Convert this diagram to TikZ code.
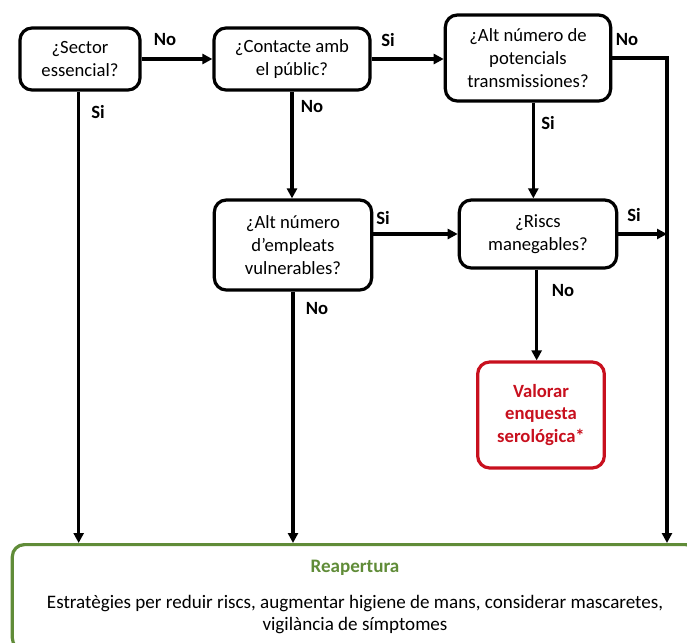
\documentclass[tikz,border=0pt]{standalone}
\usepackage{fontspec}
\setmainfont{Carlito}
\usetikzlibrary{arrows.meta}
\definecolor{alertred}{RGB}{200,16,30}
\definecolor{opengreen}{RGB}{96,140,56}
\tikzstyle{question}=[draw, rounded corners=9pt, line width=2.4pt, align=center, inner sep=0, font=\fontsize{14}{17}\selectfont]
\tikzstyle{outcome}=[question, draw=alertred, text=alertred, font=\bfseries\fontsize{14}{17}\selectfont]
\tikzstyle{answer}=[font=\bfseries\fontsize{14}{17}\selectfont]
\tikzstyle{flow}=[line width=2.4pt, -{Triangle[length=7.5pt, width=7.5pt]}]

\begin{document}
\begin{tikzpicture}[x=0.75pt, y=-0.75pt]
          \useasboundingbox (0,0) rectangle (687,643);
          \node[question, minimum width=90pt, minimum height=46.5pt] (sector) at (80, 59) {¿Sector\\essencial?};
          \node[question, minimum width=117pt, minimum height=46.5pt] (contacte) at (292, 59) {¿Contacte amb\\el públic?};
          \node[question, minimum width=124pt, minimum height=64.5pt] (potencials) at (528, 58) {¿Alt número de\\potencials\\transmissiones?};
          \node[question, minimum width=118pt, minimum height=67.5pt] (empleats) at (293, 245) {¿Alt número\\d’empleats\\vulnerables?};
          \node[question, minimum width=118pt, minimum height=51pt] (riscs) at (538, 234) {¿Riscs\\manegables?};
          \node[outcome, minimum width=95pt, minimum height=79.5pt] (valorar) at (541, 415) {Valorar\\enquesta\\serológica*};
          \node[question, draw=opengreen, anchor=north, minimum width=514pt, inner ysep=12pt,
                font=\fontsize{14.3}{16.5}\selectfont] (reapertura) at (355, 543)
            {\textcolor{opengreen}{\bfseries Reapertura}\\[10.5pt]
             Estratègies per reduir riscs, augmentar higiene de mans, considerar mascaretes,\\
             vigilància de símptomes};
          \coordinate (right_rail) at (667, 0);

          \draw[flow] (sector) -- (contacte);
          \draw[flow] (contacte.east) -- (contacte.east -| potencials.west);
          \draw[flow] (potencials.east) -| (right_rail |- reapertura.north);
          \draw[flow] ([xshift=-1pt]sector.south) -- ([xshift=-1pt]sector.south |- reapertura.north);
          \draw[flow] (contacte.south) -- (contacte.south |- empleats.north);
          \draw[flow] ([xshift=4pt]potencials.south) -- ([xshift=4pt]potencials.south |- riscs.north);
          \draw[flow] (empleats.east |- riscs.west) -- (riscs.west);
          \draw[flow] (riscs.east) -- (riscs.east -| right_rail);
          \draw[flow] ([xshift=-1pt]riscs.south) -- ([xshift=-1pt]riscs.south |- valorar.north);
          \draw[flow] (empleats.south) -- (empleats.south |- reapertura.north);

          \node[answer] (no_sector) at (165, 40) {No};
          \node[answer] (si_sector) at (98, 112) {Si};
          \node[answer] (no_contacte) at (312, 107) {No};
          \node[answer] (si_contacte) at (388, 40) {Si};
          \node[answer] (no_potencials) at (627, 40) {No};
          \node[answer] (si_potencials) at (548, 123) {Si};
          \node[answer] (si_empleats) at (383, 218) {Si};
          \node[answer] (no_empleats) at (317, 309) {No};
          \node[answer] (si_riscs) at (634, 215) {Si};
          \node[answer] (no_riscs) at (563, 291) {No};
        \end{tikzpicture}
\end{document}
